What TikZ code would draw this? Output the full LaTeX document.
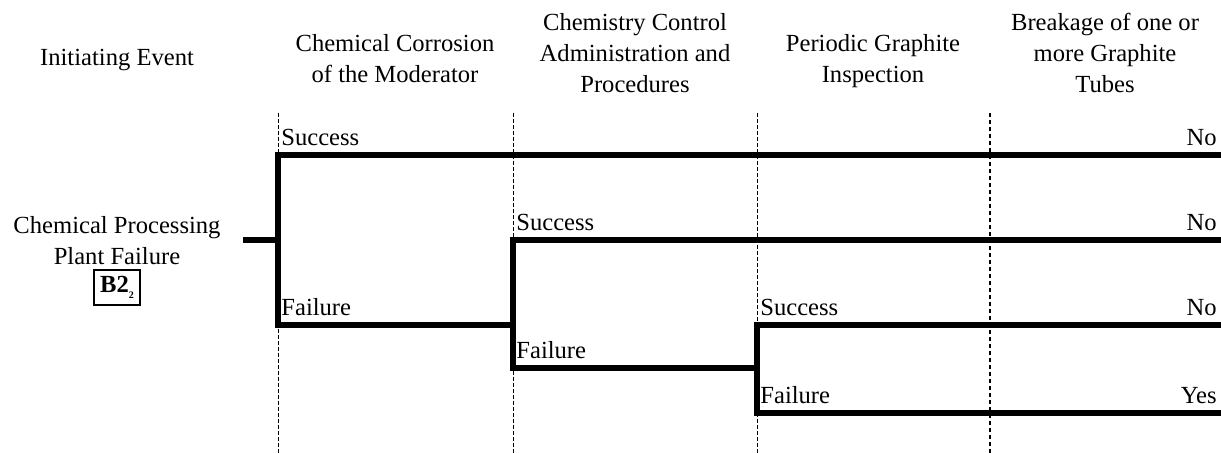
\documentclass[tikz,border=0pt]{standalone}
\usepackage{fontspec}
\setmainfont{Liberation Serif}
\usetikzlibrary{positioning}

\tikzset{
  branch/.style={line width=2.7pt},
  guide/.style={line width=0.5pt, dash pattern=on 2pt off 1pt},
  lastguide/.style={line width=1.4pt, dash pattern=on 2pt off 1.5pt},
  head/.style={align=center, font=\fontsize{12.3}{15.5}\selectfont},
  lbl/.style={font=\fontsize{12.3}{14}\selectfont, inner sep=0pt},
  codebox/.style={draw, line width=0.7pt, inner sep=3pt, font=\fontsize{12.3}{14}\selectfont\bfseries},
}

\begin{document}
\begin{tikzpicture}[x=0.5pt,y=-0.5pt]
\useasboundingbox (0,0) rectangle (1221,453);

% column guides
\foreach \x in {278,513,757}
  \draw[guide] (\x,113) -- (\x,453);
\draw[lastguide] (990,113) -- (990,453);

% headings
\node[head] (hinit) at (117,60) {Initiating Event};
\node[head] (hcorr) at (395,59) {Chemical Corrosion\\of the Moderator};
\node[head] (hctrl) at (635,53) {Chemistry Control\\Administration and\\Procedures};
\node[head] (hinsp) at (873,61) {Periodic Graphite\\Inspection};
\node[head] (hbreak) at (1105,53) {Breakage of one or\\more Graphite\\Tubes};

% initiating event
\node[head] (event) at (117,241) {Chemical Processing\\Plant Failure};
\node[codebox, below=-1.5pt of event] (code) {B2\raisebox{-0.6ex}{\tiny 2}};

% branch points
\coordinate (ie) at (243,240);
\coordinate (n1) at (278,240);
\coordinate (s1) at (278,155);
\coordinate (f1) at (278,325);
\coordinate (e1) at (1221,155);
\coordinate (s2) at (513,240);
\coordinate (n2) at (513,325);
\coordinate (f2) at (513,368);
\coordinate (e2) at (1221,240);
\coordinate (s3) at (757,325);
\coordinate (n3) at (757,368);
\coordinate (f3) at (757,413);
\coordinate (e3) at (1221,325);
\coordinate (e4) at (1221,413);

% event tree
\draw[branch] (ie) -- (n1);
\draw[branch] (e1) -- (s1) -- (f1) -- (n2);
\draw[branch] (e2) -- (s2) -- (f2) -- (n3);
\draw[branch] (e3) -- (s3) -- (f3) -- (e4);

% branch labels
\node[lbl, anchor=base west] (ls1) at (281,146) {Success};
\node[lbl, anchor=base west] (lf1) at (281,316) {Failure};
\node[lbl, anchor=base west] (ls2) at (516,231) {Success};
\node[lbl, anchor=base west] (lf2) at (516,359) {Failure};
\node[lbl, anchor=base west] (ls3) at (760,316) {Success};
\node[lbl, anchor=base west] (lf3) at (760,404) {Failure};

% outcomes
\node[lbl, anchor=base east] (o1) at (1217,146) {No};
\node[lbl, anchor=base east] (o2) at (1217,231) {No};
\node[lbl, anchor=base east] (o3) at (1217,316) {No};
\node[lbl, anchor=base east] (o4) at (1217,404) {Yes};

\end{tikzpicture}
\end{document}
